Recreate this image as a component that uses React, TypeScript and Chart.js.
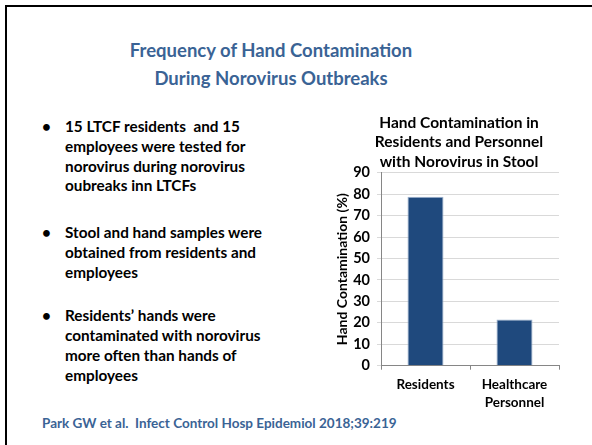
import React, { useEffect, useRef } from "react";
import { Chart, registerables } from "chart.js";

Chart.register(...registerables);

const categories: (string | string[])[] = ["Residents", ["Healthcare", "Personnel"]];
const contaminationPct: number[] = [78.8, 21.6];
const yTicks: number[] = [0, 10, 20, 30, 40, 50, 60, 70, 80, 90];
const chartTitle: string[] = ["Hand Contamination in", "Residents and Personnel", "with Norovirus in Stool"];
const yAxisTitle = "Hand Contamination (%)";

const slideTitle: string[] = ["Frequency of Hand Contamination", "During Norovirus Outbreaks"];
const bullets: string[][] = [
  ["15 LTCF residents  and 15", "employees were tested for", "norovirus during norovirus", "oubreaks inn LTCFs"],
  ["Stool and hand samples were", "obtained from residents and", "employees"],
  ["Residents\u2019 hands were", "contaminated with norovirus", "more often than hands of", "employees"],
];
const citation = "Park GW et al.  Infect Control Hosp Epidemiol 2018;39:219";

const FONT = "Lato, 'Open Sans', sans-serif";

function BarChart() {
  const ref = useRef<HTMLCanvasElement>(null);
  useEffect(() => {
    if (!ref.current) return;
    const chart = new Chart(ref.current, {
      type: "bar",
      data: {
        labels: categories as any,
        datasets: [
          {
            data: contaminationPct,
            backgroundColor: "#1F497D",
            borderColor: "#9DB3CF",
            borderWidth: 1,
            categoryPercentage: 1,
            barPercentage: 0.405,
            yAxisID: "y",
          },
        ],
      },
      options: {
        animation: false,
        responsive: false,
        maintainAspectRatio: false,
        layout: { padding: { left: 0, right: 0, top: 0, bottom: 0 } },
        plugins: {
          legend: { display: false },
          tooltip: { enabled: false },
          title: {
            display: true,
            text: chartTitle,
            color: "#000000",
            font: { family: FONT, size: 15.5, weight: "bold", lineHeight: 1.258 },
            padding: { top: 13.25, bottom: 1 },
          },
        },
        scales: {
          x: {
            grid: { display: true, drawOnChartArea: false, offset: true, tickLength: 4, color: "#868686" },
            border: { display: true, color: "#868686" },
            ticks: {
              color: "#000000",
              font: { family: FONT, size: 13.5, weight: "bold", lineHeight: 1.33 },
              padding: 6.3,
              maxRotation: 0,
            },
            afterFit: (s: any) => {
              s.height = 64.3;
            },
          },
          y: {
            position: "left",
            min: 0,
            max: 90,
            afterBuildTicks: (s: any) => {
              s.ticks = yTicks.map((v) => ({ value: v }));
            },
            grid: { color: "#D9D9D9", tickLength: 4 },
            border: { display: true, color: "#868686" },
            ticks: {
              color: "#000000",
              font: { family: FONT, size: 14.5, weight: "bold" },
              padding: 7,
            },
            title: {
              display: true,
              text: yAxisTitle,
              color: "#000000",
              font: { family: FONT, size: 14, weight: "bold", lineHeight: 1.2 },
              padding: { top: 13.6, bottom: 0 },
            },
            afterFit: (s: any) => {
              s.width = 61;
            },
          },
          yRight: {
            position: "right",
            display: true,
            min: 0,
            max: 90,
            grid: { display: false },
            border: { display: false },
            ticks: { display: false },
            afterFit: (s: any) => {
              s.width = 39;
            },
          },
        },
      },
    });
    return () => chart.destroy();
  }, []);
  return <canvas ref={ref} width={278} height={330} style={{ position: "absolute", left: 320, top: 100, width: 278, height: 330 }} />;
}

export default function App() {
  const tops = [117, 223.3, 306.3];
  return (
    <div style={{ position: "absolute", left: 0, top: 0, width: 592, height: 445, background: "#fff", overflow: "hidden", fontFamily: FONT }}>
      <div style={{ position: "absolute", left: 5, top: 5, width: 600, height: 460, borderLeft: "2.5px solid #000", borderTop: "2.5px solid #000" }} />
      <div style={{ position: "absolute", left: 71, top: 36, width: 400, textAlign: "center", color: "#3A6395", fontWeight: 700, fontSize: 18.5, lineHeight: "28px" }}>
        {slideTitle.map((t, i) => (
          <div key={i}>{t}</div>
        ))}
      </div>
      {bullets.map((lines, bi) => (
        <div key={bi} style={{ position: "absolute", left: 0, top: tops[bi], color: "#000", fontWeight: 700, fontSize: 15.3, lineHeight: "19.8px" }}>
          <div style={{ position: "absolute", left: 42, top: 0 }}>{"\u2022"}</div>
          <div style={{ position: "absolute", left: 65, top: 0, whiteSpace: "pre" }}>
            {lines.map((l, i) => (
              <div key={i}>{l}</div>
            ))}
          </div>
        </div>
      ))}
      <div style={{ position: "absolute", left: 42, top: 415, color: "#3A6395", fontWeight: 700, fontSize: 13.5, lineHeight: "16px", whiteSpace: "pre" }}>{citation}</div>
      <BarChart />
    </div>
  );
}
